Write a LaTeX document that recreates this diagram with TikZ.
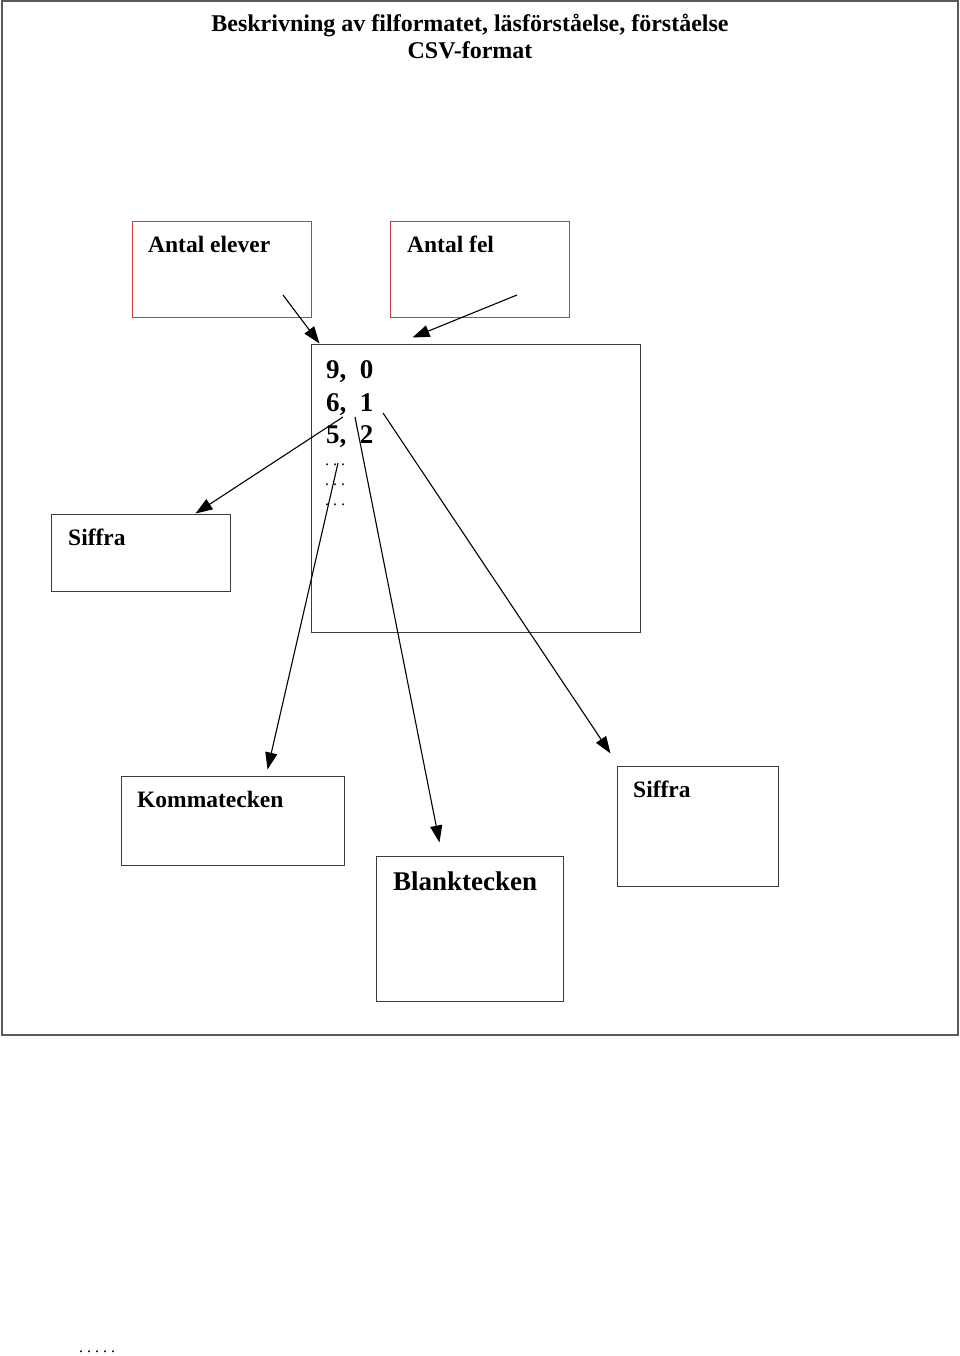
\documentclass[tikz,border=0pt]{standalone}
\usepackage{fontspec}
\setmainfont{Liberation Serif}
\usetikzlibrary{arrows.meta}
\definecolor{boxred}{RGB}{200,60,60}
\definecolor{boxgray}{RGB}{60,60,60}
\definecolor{framegray}{RGB}{90,90,90}

\begin{document}
\begin{tikzpicture}[x=1pt,y=-1pt,
  box/.style={draw=boxgray, line width=1pt, inner sep=0pt},
  redbox/.style={box, draw=boxred},
  lbl/.style={anchor=base west, inner sep=0pt, font=\fontsize{23.5}{28}\selectfont\bfseries},
  num/.style={anchor=base west, inner sep=0pt, font=\fontsize{27}{32}\selectfont\bfseries},
  dotsrow/.style={anchor=base west, inner sep=0pt, font=\fontsize{16}{16}\selectfont},
  arr/.style={-{Triangle[length=17pt,width=12pt]}, line width=1.1pt}]
\useasboundingbox (0,0) rectangle (960,1356);
\draw[framegray, line width=1.5pt] (2,1) rectangle (958,1035);

% title
\node[lbl, anchor=base, font=\fontsize{24}{28}\selectfont\bfseries] (title1) at (470,32) {Beskrivning av filformatet, läsförståelse, förståelse};
\node[lbl, anchor=base, font=\fontsize{24}{28}\selectfont\bfseries] (title2) at (470,59) {CSV-format};

% boxes
\node[redbox, minimum width=179pt, minimum height=95pt] (ae) at (221.5,269.5) {};
\node[redbox, minimum width=179pt, minimum height=95pt] (af) at (479.5,269.5) {};
\node[box, minimum width=329pt, minimum height=288pt] (data) at (475.5,488) {};
\node[box, minimum width=179pt, minimum height=77pt] (sl) at (140.5,552.5) {};
\node[box, minimum width=223pt, minimum height=89pt] (km) at (232.5,820.5) {};
\node[box, minimum width=187pt, minimum height=145pt] (bl) at (469.5,928.5) {};
\node[box, minimum width=161pt, minimum height=120pt] (sr) at (697.5,826) {};

% labels
\node[lbl] (ae-t) at (148,253) {Antal elever};
\node[lbl] (af-t) at (407,253) {Antal fel};
\node[lbl] (sl-t) at (68,545) {Siffra};
\node[lbl] (km-t) at (137,807) {Kommatecken};
\node[lbl, font=\fontsize{27}{32}\selectfont\bfseries] (bl-t) at (393,890) {Blanktecken};
\node[lbl] (sr-t) at (633,797) {Siffra};

% data rows
\foreach \row/\a/\b in {378/9/0, 411/6/1, 443/5/2}
  \node[num] (n\a) at (326,\row) {\a,\ \ \b};
\foreach \y in {465,485,505}
  \node[dotsrow] (d\y) at (325,\y) {.\ .\ .};
\node[dotsrow] (tail) at (79,1352) {.\ .\ .\ .\ .};

% arrows
\coordinate (s1) at (283,295);
\coordinate (s2) at (517,295);
\coordinate (s3) at (343,417);
\coordinate (s4) at (338,463);
\coordinate (s5) at (355,417);
\coordinate (s6) at (383,413);
\draw[arr] (s1) -- ([xshift=9pt]data.north west);
\draw[arr] (s2) -- ([xshift=102pt,yshift=6pt]data.north west);
\draw[arr] (s3) -- ([xshift=-35pt]sl.north east);
\draw[arr] (s4) -- ([xshift=147pt,yshift=6pt]km.north west);
\draw[arr] (s5) -- ([xshift=64pt,yshift=13pt]bl.north west);
\draw[arr] (s6) -- ([xshift=-6pt,yshift=12pt]sr.north west);
\end{tikzpicture}
\end{document}
